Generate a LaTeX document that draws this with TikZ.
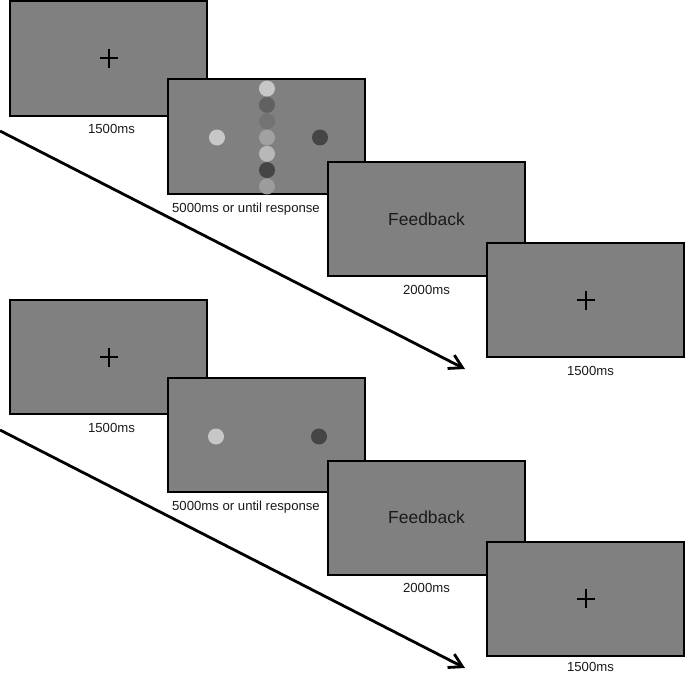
\documentclass[tikz,border=0pt]{standalone}
\usepackage{fontspec}
\setmainfont{Liberation Sans}
\usetikzlibrary{positioning,arrows.meta}
\definecolor{screengray}{RGB}{128,128,128}
\definecolor{labelblack}{RGB}{26,26,26}

\begin{document}
\begin{tikzpicture}[x=1bp, y=-1bp,
    screen/.style={rectangle, draw=black, line width=2bp, fill=screengray,
                   minimum width=197bp, minimum height=114bp, inner sep=0pt,
                   font=\fontsize{17.5}{20}\selectfont, text=labelblack},
    timing/.style={font=\fontsize{13.2}{15}\selectfont, text=labelblack, inner sep=0pt},
    timeline/.style={line width=2.8bp, -{Straight Barb[length=13bp, width=15bp, line width=2.8bp]}},
    fixation/.style={line width=2bp, black}
]
\useasboundingbox (0,0) rectangle (685,674);

% Top trial
\node[screen] (a1) at (108.5,58.5) {};
\node[screen] (a2) at (266,136.5) {};
\node[screen] (a3) at (426.5,219) {Feedback};
\node[screen] (a4) at (585.5,300) {};

\node[timing, below=8bp of a1, xshift=3bp] (ta1) {1500ms};
\node[timing, below=8bp of a2, xshift=-20bp] (ta2) {5000ms or until response};
\node[timing, below=8bp of a3] (ta3) {2000ms};
\node[timing, below=8bp of a4, xshift=5bp] (ta4) {1500ms};

\draw[fixation] (a1.center) +(-9,0) -- +(9,0) +(0,-9.5) -- +(0,9.5);
\draw[fixation] (a4.center) +(-9,0) -- +(9,0) +(0,-9.5) -- +(0,9.5);

% Choice dots and vertical column
\fill[black!22] (a2.center) ++(-49,1) circle (8);
\fill[black!73] (a2.center) ++(54,1) circle (8);
\foreach \shade [count=\i] in {22,62,55,37,28,73,39}
    \fill[black!\shade] (a2.center) ++(1,{(\i-4)*16.3+1}) circle (8);

\coordinate (ua) at (0,131);
\coordinate (va) at (465,369);
\draw[timeline] (ua) -- (va);

% Bottom trial
\node[screen] (b1) at (108.5,357) {};
\node[screen] (b2) at (266,435) {};
\node[screen] (b3) at (426.5,517.5) {Feedback};
\node[screen] (b4) at (585.5,598.5) {};

\node[timing, below=8bp of b1, xshift=3bp] (tb1) {1500ms};
\node[timing, below=8bp of b2, xshift=-20bp] (tb2) {5000ms or until response};
\node[timing, below=8bp of b3] (tb3) {2000ms};
\node[timing, below=6bp of b4, xshift=5bp] (tb4) {1500ms};

\draw[fixation] (b1.center) +(-9,0) -- +(9,0) +(0,-9.5) -- +(0,9.5);
\draw[fixation] (b4.center) +(-9,0) -- +(9,0) +(0,-9.5) -- +(0,9.5);

\fill[black!22] (b2.center) ++(-50,1.5) circle (8);
\fill[black!73] (b2.center) ++(53,1.5) circle (8);

\coordinate (ub) at (0,430);
\coordinate (vb) at (465,668);
\draw[timeline] (ub) -- (vb);
\end{tikzpicture}
\end{document}
